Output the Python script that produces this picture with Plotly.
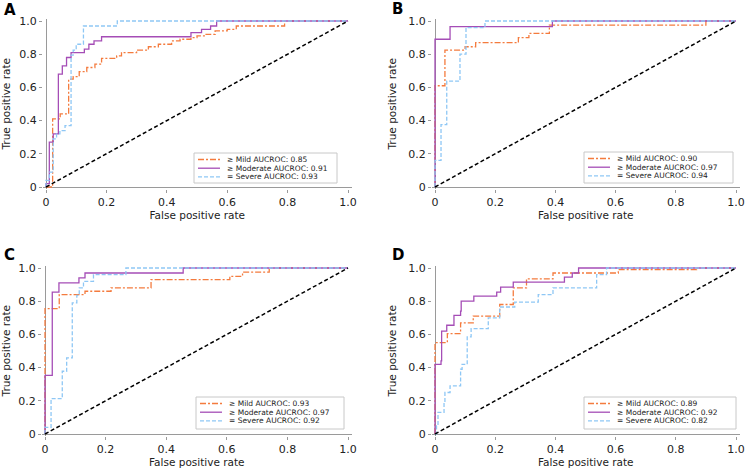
import plotly.graph_objects as go

W, H = 746, 468

# ---- data ----
PANELS = ["A", "B", "C", "D"]
GRADES = ["≥ Mild", "≥ Moderate", "= Severe"]
TICKS = [0, 0.2, 0.4, 0.6, 0.8, 1.0]
TICK_TEXT = ["0", "0.2", "0.4", "0.6", "0.8", "1.0"]

AUC_A = [0.85, 0.91, 0.93]
AUC_B = [0.90, 0.97, 0.94]
AUC_C = [0.93, 0.97, 0.92]
AUC_D = [0.89, 0.92, 0.82]

A_MILD_FPR = [0, 0.022, 0.047, 0.075, 0.09, 0.11, 0.135, 0.162, 0.184, 0.234, 0.25, 0.30,
              0.339, 0.372, 0.416, 0.444, 0.48, 0.50, 0.53, 0.56, 0.60, 0.63, 0.79, 1.0]
A_MILD_TPR = [0, 0.41, 0.44, 0.65, 0.665, 0.695, 0.72, 0.74, 0.775, 0.79, 0.81, 0.825,
              0.845, 0.86, 0.88, 0.89, 0.90, 0.91, 0.92, 0.94, 0.95, 0.97, 1.0, 1.0]
A_MOD_FPR = [0, 0, 0.011, 0.024, 0.041, 0.054, 0.068, 0.083, 0.127, 0.142, 0.159, 0.184,
             0.48, 0.515, 0.545, 0.565, 1.0]
A_MOD_TPR = [0, 0.02, 0.27, 0.32, 0.68, 0.73, 0.78, 0.81, 0.83, 0.86, 0.88, 0.905,
             0.93, 0.95, 0.97, 1.0, 1.0]
A_SEV_FPR = [0, 0, 0.011, 0.024, 0.035, 0.046, 0.063, 0.083, 0.09, 0.10, 0.124, 0.236, 1.0]
A_SEV_TPR = [0, 0.04, 0.09, 0.29, 0.32, 0.34, 0.37, 0.795, 0.825, 0.86, 0.97, 1.0, 1.0]

B_MILD_FPR = [0, 0, 0.033, 0.10, 0.135, 0.277, 0.312, 0.38, 0.9, 1.0]
B_MILD_TPR = [0, 0.61, 0.825, 0.845, 0.87, 0.90, 0.925, 0.975, 1.0, 1.0]
B_MOD_FPR = [0, 0, 0.05, 0.39, 1.0]
B_MOD_TPR = [0, 0.89, 0.966, 1.0, 1.0]
B_SEV_FPR = [0, 0, 0.02, 0.039, 0.083, 0.103, 0.166, 1.0]
B_SEV_TPR = [0, 0.16, 0.376, 0.638, 0.80, 0.96, 1.0, 1.0]

C_MILD_FPR = [0, 0, 0.047, 0.132, 0.218, 0.35, 0.61, 0.652, 0.74, 1.0]
C_MILD_TPR = [0, 0.755, 0.84, 0.86, 0.88, 0.93, 0.95, 0.975, 1.0, 1.0]
C_MOD_FPR = [0, 0, 0.024, 0.046, 0.112, 0.132, 0.456, 1.0]
C_MOD_TPR = [0, 0.353, 0.855, 0.91, 0.94, 0.97, 1.0, 1.0]
C_SEV_FPR = [0, 0, 0.02, 0.057, 0.0715, 0.09, 0.105, 0.113, 0.127, 0.16, 0.267, 1.0]
C_SEV_TPR = [0, 0.04, 0.213, 0.378, 0.458, 0.79, 0.835, 0.88, 0.92, 0.96, 1.0, 1.0]

D_MILD_FPR = [0, 0, 0.041, 0.085, 0.127, 0.215, 0.26, 0.304, 0.392, 0.609, 0.869, 1.0]
D_MILD_TPR = [0, 0.55, 0.605, 0.67, 0.71, 0.78, 0.88, 0.935, 0.97, 0.99, 1.0, 1.0]
D_MOD_FPR = [0, 0, 0.02, 0.022, 0.039, 0.063, 0.085, 0.087, 0.129, 0.205, 0.218, 0.26,
             0.43, 0.456, 0.477, 1.0]
D_MOD_TPR = [0, 0.42, 0.44, 0.62, 0.655, 0.715, 0.74, 0.80, 0.83, 0.855, 0.885, 0.915,
             0.945, 0.97, 1.0, 1.0]
D_SEV_FPR = [0, 0.005, 0.01, 0.03, 0.033, 0.05, 0.085, 0.09, 0.107, 0.12, 0.177, 0.215,
             0.265, 0.343, 0.392, 0.537, 0.57, 1.0]
D_SEV_TPR = [0, 0.05, 0.13, 0.19, 0.25, 0.29, 0.39, 0.42, 0.585, 0.635, 0.70, 0.765,
             0.795, 0.84, 0.88, 0.96, 1.0, 1.0]

CURVES = {
    "A": [(A_MILD_FPR, A_MILD_TPR), (A_MOD_FPR, A_MOD_TPR), (A_SEV_FPR, A_SEV_TPR)],
    "B": [(B_MILD_FPR, B_MILD_TPR), (B_MOD_FPR, B_MOD_TPR), (B_SEV_FPR, B_SEV_TPR)],
    "C": [(C_MILD_FPR, C_MILD_TPR), (C_MOD_FPR, C_MOD_TPR), (C_SEV_FPR, C_SEV_TPR)],
    "D": [(D_MILD_FPR, D_MILD_TPR), (D_MOD_FPR, D_MOD_TPR), (D_SEV_FPR, D_SEV_TPR)],
}
AUCS = {"A": AUC_A, "B": AUC_B, "C": AUC_C, "D": AUC_D}

# ---- styling ----
COLORS = ["#F47B3E", "#A54DB6", "#8EC7F5"]
DASHES = ["6px,2px,2px,2px", "solid", "4px,2px"]
FONT = "DejaVu Sans, Verdana, sans-serif"
AXCOL = "#9a9a9a"

# pixel positions of data 0 and 1 for each panel: x0, x1, y0 (bottom), y1 (top)
GEOM = {
    "A": (46, 348, 187, 21),
    "B": (435, 736, 187, 21),
    "C": (45, 348, 434, 268),
    "D": (435, 736, 434, 268),
}
# legend boxes in px: left, top, right, bottom
LEG = {
    "A": (194, 153, 337, 183),
    "B": (584, 152, 733, 183),
    "C": (196, 397, 344, 429),
    "D": (584, 397, 736, 429),
}
LETTER_POS = {"A": (2, 10), "B": (390, 9), "C": (2, 255), "D": (390, 255)}

XR = (-0.01, 1.012)
YR = (-0.012, 1.015)


def px(x):
    return x / W


def py(y):
    return 1 - y / H


fig = go.Figure()
layout = {}
shapes = []
annotations = []

for i, p in enumerate(PANELS):
    n = "" if i == 0 else str(i + 1)
    xa, ya = "x" + n, "y" + n
    x0, x1, y0, y1 = GEOM[p]
    sx, sy = x1 - x0, y0 - y1
    xdom = [px(x0 + XR[0] * sx), px(x0 + XR[1] * sx)]
    ydom = [py(y0 - YR[0] * sy), py(y1 - (YR[1] - 1) * sy)]

    for (fpr, tpr), g, c, d in zip(CURVES[p], GRADES, COLORS, DASHES):
        fig.add_trace(go.Scatter(x=fpr, y=tpr, mode="lines", line_shape="hv",
            line=dict(color=c, width=1.3, dash=d), name=g,
            showlegend=False, xaxis=xa, yaxis=ya))
    fig.add_trace(go.Scatter(x=[0, 1], y=[0, 1], mode="lines",
        line=dict(color="black", width=1.5, dash="4px,2.5px"),
        showlegend=False, xaxis=xa, yaxis=ya))

    common = dict(showgrid=False, showline=False, zeroline=True, automargin=False,
        zerolinecolor=AXCOL, zerolinewidth=1, ticks="outside", ticklen=3,
        tickcolor=AXCOL, tickvals=TICKS, ticktext=TICK_TEXT,
        tickfont=dict(family=FONT, size=11, color="#222"))
    layout["xaxis" + n] = dict(common, domain=xdom, range=list(XR), anchor=ya,
        title=dict(text="False positive rate", standoff=1,
                   font=dict(family=FONT, size=10.5, color="#222")))
    layout["yaxis" + n] = dict(common, domain=ydom, range=list(YR), anchor=xa,
        title=dict(text="True positive rate", standoff=9,
                   font=dict(family=FONT, size=10.5, color="#222")))

    # legend box drawn by hand so rows can be as tight as the original
    l, t, r, b = LEG[p]
    shapes.append(dict(type="rect", xref="paper", yref="paper",
        x0=px(l), x1=px(r), y0=py(b), y1=py(t),
        line=dict(color="#c8c8c8", width=1), fillcolor="white", layer="above"))
    for k, (g, c, d, auc) in enumerate(zip(GRADES, COLORS, DASHES, AUCS[p])):
        ry = t + 6.5 + k * 8.7
        shapes.append(dict(type="line", xref="paper", yref="paper",
            x0=px(l + 4), x1=px(l + 26), y0=py(ry), y1=py(ry),
            line=dict(color=c, width=1.3, dash=d), layer="above"))
        annotations.append(dict(xref="paper", yref="paper", x=px(l + 31), y=py(ry),
            xanchor="left", yanchor="middle", showarrow=False,
            text=f"{g} AUCROC: {auc:.2f}",
            font=dict(family=FONT, size=7.5, color="#222")))

    lx, ly = LETTER_POS[p]
    annotations.append(dict(xref="paper", yref="paper", x=px(lx), y=py(ly),
        xanchor="left", yanchor="middle", showarrow=False, text=f"<b>{p}</b>",
        font=dict(family="DejaVu Sans", size=15, color="black")))

fig.update_layout(**layout)
fig.update_layout(width=W, height=H, margin=dict(l=0, r=0, t=0, b=0),
    plot_bgcolor="white", paper_bgcolor="white",
    shapes=shapes, annotations=annotations, showlegend=False)

# page body has a default 8px margin; drop it so the figure sits at the window corner
fig.write_html("out.html", config={"displayModeBar": False},
               post_script="document.body.style.margin = '0px';")
